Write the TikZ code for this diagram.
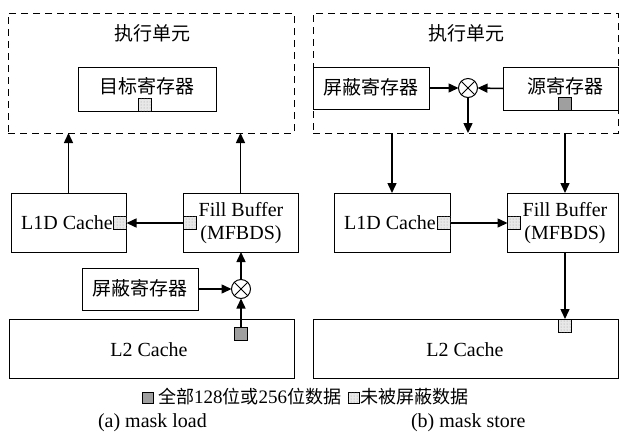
\documentclass[tikz,border=0pt]{standalone}
\usepackage{fontspec}
\setmainfont{Liberation Serif}
\newfontfamily\cjk{Noto Sans CJK SC}[Scale=0.95]
\usetikzlibrary{arrows.meta,patterns,calc}
\begin{document}
\begin{tikzpicture}[x=1pt,y=-1pt,
  every node/.style={inner sep=0pt, outer sep=0pt},
  font=\fontsize{20}{23}\selectfont,
  box/.style={draw, line width=1pt, fill=white},
  dbox/.style={draw, line width=1pt, dash pattern=on 7pt off 5pt},
  dotsq/.style={draw, line width=0.8pt, minimum size=13pt, fill=gray!18, postaction={pattern=dots, pattern color=gray!80}},
  graysq/.style={draw, line width=0.8pt, minimum size=13pt, fill=gray!75},
  mult/.style={draw, circle, minimum size=19pt, line width=1pt, fill=white},
  arr/.style={-{Triangle[length=10pt,width=9pt]}, line width=1.5pt},
  txt/.style={}]
\useasboundingbox (0,0) rectangle (619,432);

% ---------- (a) mask load ----------
\node[dbox, minimum width=286pt, minimum height=120pt] (eu1) at (151,73) {};
\node[txt] (eu1t) at (152,33) {\cjk 执行单元};
\node[box, minimum width=138pt, minimum height=44pt] (dst) at (147,89) {};
\node[txt] (dstt) at (147,86) {\cjk 目标寄存器};
\node[dotsq] (dstsq) at (145,104.5) {};

\node[box, minimum width=115pt, minimum height=59pt] (l1dL) at (68.5,222.5) {};
\node[txt] (l1dLt) at (67,223) {L1D Cache};
\node[dotsq] (l1dLsq) at (120,223) {};
\node[box, minimum width=115pt, minimum height=59pt] (fbL) at (240.5,222.5) {};
\node[txt, align=center] (fbLt) at (241,223) {Fill Buffer\\(MFBDS)};
\node[dotsq] (fbLsq) at (190,223) {};

\node[box, minimum width=116pt, minimum height=42pt] (maskL) at (140,289) {};
\node[txt] (maskLt) at (140,288) {\cjk 屏蔽寄存器};
\node[mult] (mL) at (241,289) {};
\draw[line width=1pt] (mL.north west) -- (mL.south east) (mL.north east) -- (mL.south west);

\node[box, minimum width=285pt, minimum height=59pt] (l2L) at (151.5,348.5) {};
\node[txt] (l2Lt) at (149,350) {L2 Cache};
\node[graysq] (l2Lsq) at (241,333.5) {};

\draw[arr] (l1dL.north) -- (l1dL.north |- eu1.south);
\draw[arr] (fbL.north) -- (fbL.north |- eu1.south);
\draw[arr] (fbLsq.west) -- (l1dLsq.east);
\draw[arr] (maskL.east) -- (mL.west);
\draw[arr] (mL.north) -- (mL.north |- fbL.south);
\draw[arr] (l2Lsq.north) -- (mL.south);

% ---------- (b) mask store ----------
\node[dbox, minimum width=305pt, minimum height=120pt] (eu2) at (465.5,73) {};
\node[txt] (eu2t) at (466,33) {\cjk 执行单元};
\node[box, minimum width=116pt, minimum height=42pt] (maskR) at (371,88) {};
\node[txt] (maskRt) at (371,87) {\cjk 屏蔽寄存器};
\node[mult] (mR) at (468,88) {};
\draw[line width=1pt] (mR.north west) -- (mR.south east) (mR.north east) -- (mR.south west);
\node[box, minimum width=115pt, minimum height=43pt] (src) at (560.5,88.5) {};
\node[txt] (srct) at (565,86) {\cjk 源寄存器};
\node[graysq] (srcsq) at (565,103.5) {};

\node[box, minimum width=116pt, minimum height=59pt] (l1dR) at (392,222.5) {};
\node[txt] (l1dRt) at (390,223) {L1D Cache};
\node[dotsq] (l1dRsq) at (444,223) {};
\node[box, minimum width=111pt, minimum height=59pt] (fbR) at (562.5,222.5) {};
\node[txt, align=center] (fbRt) at (565,223) {Fill Buffer\\(MFBDS)};
\node[dotsq] (fbRsq) at (514,223) {};

\node[box, minimum width=305pt, minimum height=59pt] (l2R) at (465.5,348.5) {};
\node[txt] (l2Rt) at (465,350) {L2 Cache};
\node[dotsq] (l2Rsq) at (565,325.5) {};

\draw[arr] (maskR.east) -- (mR.west);
\draw[arr] (src.west) -- (mR.east);
\draw[arr] (mR.south) -- (mR.south |- eu2.south);
\draw[arr] (l1dR.north |- eu2.south) -- (l1dR.north);
\draw[arr] (srcsq.south |- eu2.south) -- (srcsq.south |- fbR.north);
\draw[arr] (l1dRsq.east) -- (fbRsq.west);
\draw[arr] (l2Rsq.north |- fbR.south) -- (l2Rsq.north);

% ---------- legend ----------
\begin{scope}[font=\fontsize{19}{22}\selectfont]
\node[graysq, minimum size=11pt] (lg1) at (148,397.5) {};
\node[txt, anchor=west] (lg1t) at (158,397) {{\cjk 全部}128{\cjk 位或}256{\cjk 位数据}};
\node[dotsq, minimum size=11pt, anchor=west] (lg2) at ([xshift=7pt]lg1t.east |- lg1) {};
\node[txt, anchor=west] (lg2t) at ([xshift=1pt]lg2.east |- lg1t) {\cjk 未被屏蔽数据};
\end{scope}
\node[txt, anchor=west] (capa) at (98,423) {(a) mask load};
\node[txt, anchor=west] (capb) at (411,423) {(b) mask store};
\end{tikzpicture}
\end{document}
